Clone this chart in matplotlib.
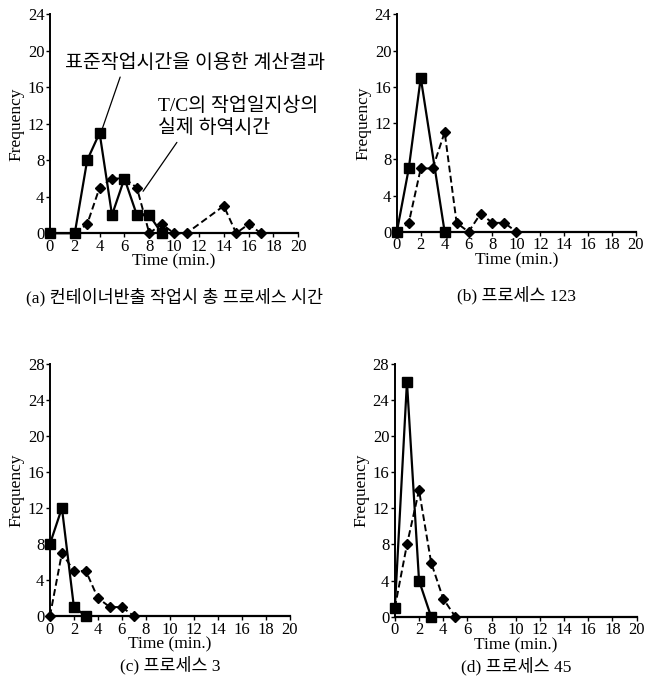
import matplotlib
matplotlib.use('Agg')
import matplotlib.pyplot as plt

plt.rcParams['font.family'] = ['Liberation Serif', 'Noto Sans CJK KR']

# (a) total process time
a_std_x = [0, 2, 3, 4, 5, 6, 7, 8, 9]
a_std_y = [0, 0, 8, 11, 2, 6, 2, 2, 0]
a_act_x = [2, 3, 4, 5, 6, 7, 8, 9, 10, 11, 14, 15, 16, 17]
a_act_y = [0, 1, 5, 6, 6, 5, 0, 1, 0, 0, 3, 0, 1, 0]

# (b) process 123
b_std_x = [0, 1, 2, 4]
b_std_y = [0, 7, 17, 0]
b_act_x = [0, 1, 2, 3, 4, 5, 6, 7, 8, 9, 10]
b_act_y = [0, 1, 7, 7, 11, 1, 0, 2, 1, 1, 0]

# (c) process 3
c_std_x = [0, 1, 2, 3]
c_std_y = [8, 12, 1, 0]
c_act_x = [0, 1, 2, 3, 4, 5, 6, 7]
c_act_y = [0, 7, 5, 5, 2, 1, 1, 0]

# (d) process 45
d_std_x = [0, 1, 2, 3]
d_std_y = [1, 26, 4, 0]
d_act_x = [0, 1, 2, 3, 4, 5]
d_act_y = [1, 8, 14, 6, 2, 0]

captions = ['(a) 컨테이너반출 작업시 총 프로세스 시간', '(b) 프로세스 123',
            '(c) 프로세스 3', '(d) 프로세스 45']
x_ticks = list(range(0, 21, 2))


def draw(ax, sx, sy, cx, cy, ymax, caption, cap_y):
    ax.plot(cx, cy, color='black', lw=1.4, ls=(0, (3.5, 1.8)), marker='D',
            ms=5.5, clip_on=False, zorder=3)
    ax.plot(sx, sy, color='black', lw=1.6, marker='s', ms=6.5,
            clip_on=False, zorder=4)
    ax.set_xlim(0, 20)
    ax.set_ylim(0, ymax)
    ax.set_xticks(x_ticks)
    ax.set_yticks(list(range(0, ymax + 1, 4)))
    ax.spines['top'].set_visible(False)
    ax.spines['right'].set_visible(False)
    ax.spines['left'].set_linewidth(1.4)
    ax.spines['bottom'].set_linewidth(1.6)
    ax.tick_params(direction='out', length=3, width=1, labelsize=12, pad=1)
    ax.set_xlabel('Time (min.)', fontsize=12.5, labelpad=-1)
    ax.set_ylabel('Frequency', fontsize=12.5, labelpad=2)
    ax.text(0.5, cap_y, caption, transform=ax.transAxes,
            ha='center', va='center', fontsize=12.5)


fig = plt.figure(figsize=(6.57, 6.80), dpi=100)
ax_a = fig.add_axes([0.076, 0.657, 0.378, 0.322])
ax_b = fig.add_axes([0.604, 0.659, 0.364, 0.320])
ax_c = fig.add_axes([0.076, 0.094, 0.365, 0.371])
ax_d = fig.add_axes([0.601, 0.093, 0.368, 0.372])

draw(ax_a, a_std_x, a_std_y, a_act_x, a_act_y, 24, captions[0], -0.29)
draw(ax_b, b_std_x, b_std_y, b_act_x, b_act_y, 24, captions[1], -0.29)
draw(ax_c, c_std_x, c_std_y, c_act_x, c_act_y, 28, captions[2], -0.195)
draw(ax_d, d_std_x, d_std_y, d_act_x, d_act_y, 28, captions[3], -0.195)

ax_a.annotate('표준작업시간을 이용한 계산결과', xy=(4.1, 11.0), xytext=(1.2, 18.7),
              ha='left', va='center', fontsize=14, annotation_clip=False,
              arrowprops=dict(arrowstyle='-', lw=0.9, color='black',
                              relpos=(0.22, 0.0), shrinkA=2, shrinkB=0))
ax_a.text(8.7, 14.0, 'T/C의 작업일지상의', ha='left', va='center', fontsize=14)
ax_a.annotate('실제 하역시간', xy=(7.5, 4.6), xytext=(8.7, 11.5),
              ha='left', va='center', fontsize=14,
              arrowprops=dict(arrowstyle='-', lw=0.9, color='black',
                              relpos=(0.2, 0.0), shrinkA=2, shrinkB=0))

fig.savefig('out.png', dpi=100)
